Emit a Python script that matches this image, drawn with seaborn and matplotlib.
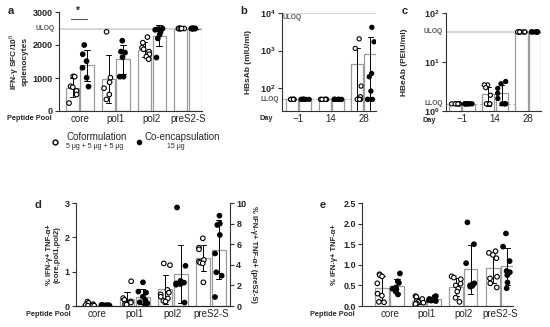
import numpy as np
import pandas as pd
import seaborn as sns
import matplotlib.pyplot as plt
from matplotlib.lines import Line2D
import matplotlib.transforms as mtrans

sns.set_style('white')
plt.rcParams['font.family'] = ['Liberation Sans', 'DejaVu Sans']
plt.rcParams['mathtext.fontset'] = 'custom'
plt.rcParams['mathtext.rm'] = 'Liberation Sans'
plt.rcParams['mathtext.bf'] = 'Liberation Sans:bold'
np.random.seed(3)

pools = ['core', 'pol1', 'pol2', 'preS2-S']
days = ['\u22121', '14', '28']
forms = ['Coformulation', 'Co-encapsulation']

# a: IFN-g SFC / 10^6 splenocytes
a_cofo = {'core': [1050, 1040, 750, 720, 610, 500, 240],
          'pol1': [2400, 1010, 870, 690, 500, 350],
          'pol2': [2240, 2070, 1920, 1870, 1800, 1720, 1650, 1570],
          'preS2-S': [2500, 2500, 2500, 2500, 2500, 2500, 2500]}
a_enc = {'core': [2000, 1720, 1510, 1310, 1010, 740],
         'pol1': [2130, 1800, 1770, 1630, 1040, 1040],
         'pol2': [2500, 2480, 2460, 2400, 2320, 2200, 1620],
         'preS2-S': [2500, 2500, 2500, 2500, 2500, 2500, 2500]}
a_uloq = 2500

# b: HBsAb (mIU/ml)
b_cofo = {'\u22121': [50, 50, 50, 50, 50, 50, 50, 50],
          '14': [50, 50, 50, 50, 50, 50, 50, 50],
          '28': [2050, 1140, 113, 59, 50, 50, 50, 50]}
b_enc = {'\u22121': [50, 50, 50, 50, 50, 50, 50, 50],
         '14': [50, 50, 50, 50, 50, 50, 50, 50],
         '28': [4150, 1710, 245, 200, 83, 50, 50, 50]}
b_lloq, b_uloq = 50, 10000

# c: HBeAb (PEIU/ml)
c_cofo = {'\u22121': [1.4, 1.4, 1.4, 1.4, 1.4, 1.4, 1.4, 1.4],
          '14': [3.4, 3.4, 3.0, 2.1, 1.4, 1.4, 1.4, 1.4],
          '28': [41, 41, 41, 41, 41, 41, 41, 41]}
c_enc = {'\u22121': [1.4, 1.4, 1.4, 1.4, 1.4, 1.4, 1.4, 1.4],
         '14': [4.0, 3.6, 2.9, 2.3, 1.8, 1.4, 1.4, 1.4],
         '28': [41, 41, 41, 41, 41, 41, 41, 41]}
c_lloq, c_uloq = 1.4, 41

# d: % IFN-g+ TNF-a+ (preS2-S on right axis)
d_cofo = {'core': [0.13, 0.09, 0.05, 0.03, 0.02, 0.02, 0.01, 0.01],
          'pol1': [0.72, 0.23, 0.18, 0.13, 0.10, 0.07, 0.05, 0.04],
          'pol2': [1.24, 1.19, 0.47, 0.39, 0.34, 0.27, 0.22, 0.15, 0.13],
          'preS2-S': [6.57, 5.66, 5.5, 4.47, 4.3, 4.2, 4.14, 2.3]}
d_enc = {'core': [0.03, 0.03, 0.02, 0.02, 0.02, 0.02, 0.01, 0.01],
         'pol1': [0.69, 0.42, 0.39, 0.27, 0.17, 0.11, 0.08, 0.03],
         'pol2': [2.87, 1.17, 0.73, 0.68, 0.66, 0.64, 0.62, 0.10],
         'preS2-S': [8.77, 8.0, 7.87, 6.9, 5.1, 3.27, 2.94, 0.87]}

# e: % IFN-g+ TNF-a+
e_cofo = {'core': [0.77, 0.75, 0.72, 0.55, 0.30, 0.25, 0.10, 0.09],
          'pol1': [0.24, 0.22, 0.17, 0.12, 0.10, 0.08, 0.06, 0.05],
          'pol2': [0.72, 0.69, 0.65, 0.54, 0.50, 0.42, 0.35, 0.20, 0.10],
          'preS2-S': [1.33, 1.29, 1.24, 1.16, 0.71, 0.67, 0.55, 0.45]}
e_enc = {'core': [0.79, 0.60, 0.56, 0.45, 0.42, 0.40, 0.35, 0.28],
         'pol1': [0.24, 0.22, 0.19, 0.17, 0.15, 0.14, 0.13, 0.12],
         'pol2': [2.03, 1.50, 1.04, 0.55, 0.52, 0.50, 0.49, 0.47],
         'preS2-S': [1.76, 1.44, 1.09, 0.85, 0.82, 0.75, 0.57, 0.43]}


def long_df(cofo, enc, keys=None):
    rows = []
    for form, d in zip(forms, [cofo, enc]):
        for k, vals in d.items():
            if keys is not None and k not in keys:
                continue
            for v in vals:
                rows.append((k, form, v))
    return pd.DataFrame(rows, columns=['grp', 'form', 'val'])


def draw(ax, df, order, size=3.3):
    sns.barplot(data=df, x='grp', y='val', hue='form', order=order, hue_order=forms,
                palette=['white', 'white'], edgecolor='#9c9c9c', linewidth=0.9,
                errorbar='sd', capsize=0.3, err_kws={'color': 'black', 'linewidth': 0.7},
                gap=0.08, legend=False, ax=ax)
    sns.stripplot(data=df, x='grp', y='val', hue='form', order=order, hue_order=forms,
                  palette=['white', 'black'], edgecolor='black', linewidth=0.8,
                  size=size, jitter=0.27, dodge=True, legend=False, ax=ax, zorder=4)
    ax.set_xlabel('')
    ax.set_ylabel('')


def style(ax, right=False):
    sns.despine(ax=ax, right=not right)
    for s in ['left', 'bottom', 'right']:
        ax.spines[s].set_color('#333333')
        ax.spines[s].set_linewidth(0.8)
    ax.tick_params(axis='y', which='both', direction='out', length=3, width=0.8,
                   labelsize=6.5, pad=1.5, left=True, color='#333333')
    ax.tick_params(axis='x', length=0, labelsize=7, pad=2)
    for t in ax.get_yticklabels():
        t.set_fontweight('bold')


def side_label(ax, y, text, size=4.8):
    tr = mtrans.blended_transform_factory(ax.transAxes, ax.transData)
    ax.text(-0.03, y, text, transform=tr, ha='right', va='center',
            fontsize=size, fontweight='bold', color='#555555')


fig = plt.figure(figsize=(5.5, 3.27), dpi=100)
W, H = 550, 327


def rect(x0, x1, y0, y1):
    return [x0 / W, 1 - y1 / H, (x1 - x0) / W, (y1 - y0) / H]


# ---- a ----
ax_a = fig.add_axes(rect(59, 202, 12, 111))
ax_a.axhline(a_uloq, color='#cfcfcf', lw=1.2, zorder=0)
draw(ax_a, long_df(a_cofo, a_enc), pools)
ax_a.set_ylim(0, 3000)
ax_a.set_yticks([0, 1000, 2000, 3000])
ax_a.set_xlim(-0.58, 3.39)
style(ax_a)
side_label(ax_a, a_uloq, 'ULOQ')
ax_a.plot([-0.25, 0.2], [2800, 2800], color='#555555', lw=0.8)
ax_a.text(-0.05, 2870, '*', ha='center', va='bottom', fontsize=7, fontweight='bold')
ax_a.set_ylabel('IFN-\u03b3 SFC/10$^6$\nsplenocytes', fontsize=6, fontweight='bold',
                labelpad=3, linespacing=1.0)

# ---- b ----
ax_b = fig.add_axes(rect(282, 376, 13, 111))
ax_b.axhline(b_lloq, color='#bbbbbb', lw=0.8, ls=(0, (3, 2)), zorder=0)
ax_b.axhline(b_uloq, color='#cfcfcf', lw=1.2, zorder=0)
draw(ax_b, long_df(b_cofo, b_enc), days, size=3.0)
ax_b.set_yscale('log')
ax_b.set_ylim(24.5, 10000)
ax_b.set_xlim(-0.5, 2.37)
ax_b.minorticks_off()
ax_b.set_yticks([100, 1000, 10000],
                labels=[r'$\mathbf{10^{2}}$', r'$\mathbf{10^{3}}$', r'$\mathbf{10^{4}}$'])
style(ax_b)
side_label(ax_b, b_lloq, 'LLOQ')
ax_b.text(0.01, 0.985, 'ULOQ', transform=ax_b.transAxes, ha='left', va='top',
          fontsize=4.8, fontweight='bold', color='#555555')
ax_b.set_ylabel('HBsAb (mIU/ml)', fontsize=6, fontweight='bold', labelpad=6)

# ---- c ----
ax_c = fig.add_axes(rect(446, 541, 13, 111))
ax_c.axhline(c_lloq, color='#bbbbbb', lw=0.8, ls=(0, (3, 2)), zorder=0)
ax_c.axhline(c_uloq, color='#cfcfcf', lw=1.2, zorder=0)
draw(ax_c, long_df(c_cofo, c_enc), days, size=3.0)
ax_c.set_yscale('log')
ax_c.set_ylim(1, 100)
ax_c.set_xlim(-0.48, 2.39)
ax_c.minorticks_off()
ax_c.set_yticks([1, 10, 100],
                labels=[r'$\mathbf{10^{0}}$', r'$\mathbf{10^{1}}$', r'$\mathbf{10^{2}}$'])
style(ax_c)
side_label(ax_c, c_lloq, 'LLOQ')
side_label(ax_c, c_uloq, 'ULOQ')
ax_c.set_ylabel('HBeAb (PEIU/ml)', fontsize=6, fontweight='bold', labelpad=12)

# ---- d ----
ax_d = fig.add_axes(rect(76, 230, 203, 306))
draw(ax_d, long_df(d_cofo, d_enc, keys=pools[:3]), pools)
ax_d2 = ax_d.twinx()
draw(ax_d2, long_df(d_cofo, d_enc, keys=pools[3:]), pools)
ax_d.set_ylim(0, 3)
ax_d.set_yticks([0, 1, 2, 3])
ax_d2.set_ylim(0, 10)
ax_d2.set_yticks([0, 2, 4, 6, 8, 10])
for ax in (ax_d, ax_d2):
    ax.set_xlim(-0.55, 3.5)
style(ax_d)
sns.despine(ax=ax_d2, right=False, left=True)
ax_d2.spines['right'].set_color('#333333')
ax_d2.spines['right'].set_linewidth(0.8)
ax_d2.tick_params(axis='y', direction='out', length=3, width=0.8, labelsize=6.5, pad=1.5,
                  right=True, color='#333333')
for t in ax_d2.get_yticklabels():
    t.set_fontweight('bold')
ax_d.set_ylabel('% IFN-\u03b3+ TNF-\u03b1+\n(core,pol1,pol2)', fontsize=5.5,
                fontweight='bold', labelpad=3, linespacing=1.0)
ax_d2.set_ylabel('% IFN-\u03b3+ TNF-\u03b1+ (preS2-S)', fontsize=5.5, fontweight='bold',
                 rotation=270, labelpad=8)

# ---- e ----
ax_e = fig.add_axes(rect(362, 513, 203, 306))
draw(ax_e, long_df(e_cofo, e_enc), pools)
ax_e.set_ylim(0, 2.5)
ax_e.set_yticks([0, 0.5, 1.0, 1.5, 2.0, 2.5])
ax_e.set_yticklabels(['0.0', '0.5', '1.0', '1.5', '2.0', '2.5'])
ax_e.set_xlim(-0.75, 3.35)
style(ax_e)
ax_e.set_ylabel('% IFN-\u03b3+ TNF-\u03b1+', fontsize=5.5, fontweight='bold', labelpad=4)

# axis captions on the x line
for x, y, s in [(52, 119, 'Peptide Pool'), (273, 119, 'Day'), (436, 121, 'Day'),
                (71, 315, 'Peptide Pool'), (355, 315, 'Peptide Pool')]:
    fig.text(x / W, 1 - y / H, s, ha='right', va='center', fontsize=5.3, fontweight='bold')

# panel letters
for x, y, s in [(8, 11, 'a'), (240, 11, 'b'), (402, 11, 'c'), (35, 205, 'd'), (320, 205, 'e')]:
    fig.text(x / W, 1 - y / H, s, ha='left', va='center', fontsize=8, fontweight='bold')

# legend under panel a
fig.add_artist(Line2D([55 / W], [1 - 142 / H], marker='o', ms=3.5, mfc='white', mec='black',
                      mew=1.0, transform=fig.transFigure))
fig.add_artist(Line2D([139 / W], [1 - 142 / H], marker='o', ms=3.0, mfc='black', mec='black',
                      transform=fig.transFigure))
fig.text(97 / W, 1 - 137 / H, 'Coformulation', ha='center', va='center', fontsize=7)
fig.text(95 / W, 1 - 146 / H, '5 \u03bcg + 5 \u03bcg + 5 \u03bcg', ha='center', va='center',
         fontsize=5)
fig.text(182 / W, 1 - 137 / H, 'Co-encapsulation', ha='center', va='center', fontsize=7)
fig.text(176 / W, 1 - 146 / H, '15 \u03bcg', ha='center', va='center', fontsize=5)

fig.savefig('out.png', dpi=100)
